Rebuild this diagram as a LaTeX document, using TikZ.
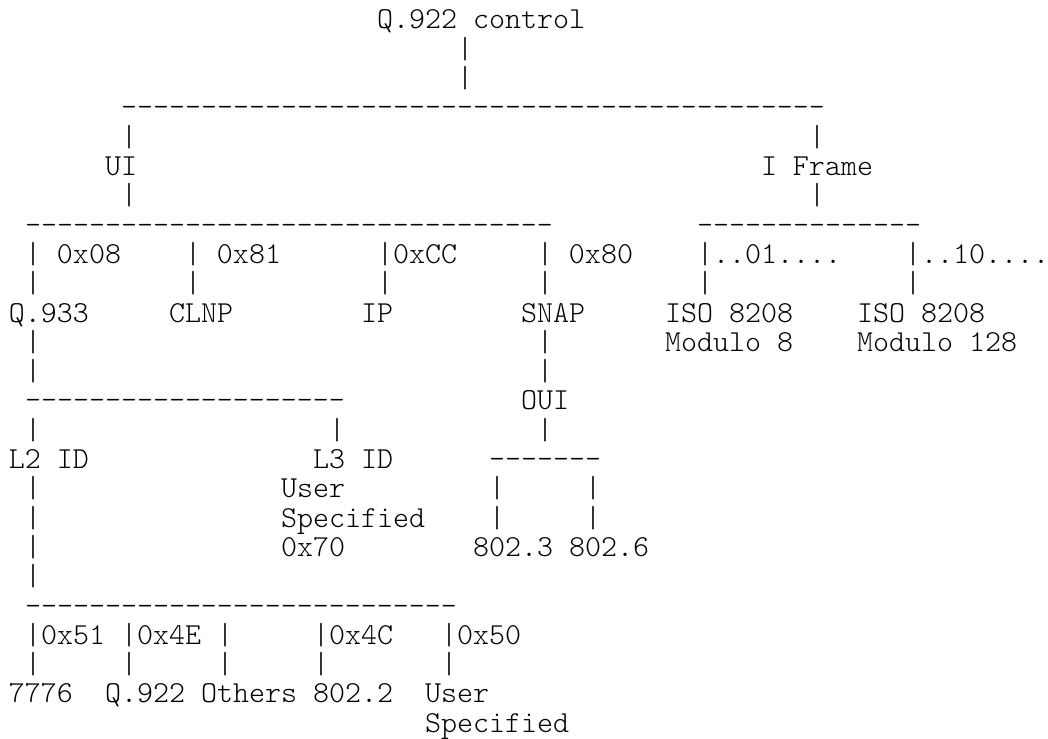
\documentclass[tikz,border=0pt]{standalone}
\usepackage{fontspec}
\setmonofont{Latin Modern Mono Light}
\ExplSyntaxOn
\NewExpandableDocumentCommand\dsh{m}{\prg_replicate:nn{#1}{-}}
\ExplSyntaxOff
\tikzset{tt/.style={anchor=base west, inner sep=0pt, outer sep=0pt, text=black,
  font=\ttfamily\fontsize{30.476pt}{29.3pt}\selectfont}}
\newcommand\T[4]{\node[tt] (#1) at (#2,#3) {#4};}
\begin{document}
\begin{tikzpicture}
\useasboundingbox (0,0) rectangle (1048pt,-738pt);
\begin{scope}[shift={(9pt,-29pt)}, x=16pt, y=-29.3pt]
% line 1-3
\T{q922c}{23}{0}{Q.922 control}
\T{p2}{28}{1}{|}
\T{p3}{28}{2}{|}
% line 4-7
\T{d4}{7}{3}{\dsh{44}}
\T{p5a}{7}{4}{|} \T{p5b}{50}{4}{|}
\T{ui}{6}{5}{UI} \T{iframe}{47}{5}{I Frame}
\T{p7a}{7}{6}{|} \T{p7b}{50}{6}{|}
% line 8-10
\T{d8a}{1}{7}{\dsh{33}} \T{d8b}{43}{7}{\dsh{14}}
\T{x08}{1}{8}{| 0x08} \T{x81}{11}{8}{| 0x81} \T{xCC}{23}{8}{|0xCC}
\T{x80}{33}{8}{| 0x80} \T{x01}{43}{8}{|..01....} \T{x10}{56}{8}{|..10....}
\T{p10a}{1}{9}{|} \T{p10b}{11}{9}{|} \T{p10c}{23}{9}{|}
\T{p10d}{33}{9}{|} \T{p10e}{43}{9}{|} \T{p10f}{56}{9}{|}
% line 11-13
\T{q933}{0}{10}{Q.933} \T{clnp}{10}{10}{CLNP} \T{ip}{22}{10}{IP}
\T{snap}{32}{10}{SNAP} \T{isoa}{41}{10}{ISO 8208} \T{isob}{53}{10}{ISO 8208}
\T{p12a}{1}{11}{|} \T{p12b}{33}{11}{|}
\T{moda}{41}{11}{Modulo 8} \T{modb}{53}{11}{Modulo 128}
\T{p13a}{1}{12}{|} \T{p13b}{33}{12}{|}
% line 14-16
\T{d14}{1}{13}{\dsh{20}} \T{oui}{32}{13}{OUI}
\T{p15a}{1}{14}{|} \T{p15b}{20}{14}{|} \T{p15c}{33}{14}{|}
\T{l2id}{0}{15}{L2 ID} \T{l3id}{19}{15}{L3 ID} \T{d16}{30}{15}{\dsh{7}}
% line 17-20
\T{p17a}{1}{16}{|} \T{usera}{17}{16}{User} \T{p17b}{30}{16}{|} \T{p17c}{36}{16}{|}
\T{p18a}{1}{17}{|} \T{speca}{17}{17}{Specified} \T{p18b}{30}{17}{|} \T{p18c}{36}{17}{|}
\T{p19a}{1}{18}{|} \T{x70}{17}{18}{0x70} \T{e8023}{29}{18}{802.3} \T{e8026}{35}{18}{802.6}
\T{p20a}{1}{19}{|}
% line 21-25
\T{d21}{1}{20}{\dsh{27}}
\T{x51}{1}{21}{|0x51} \T{x4E}{7}{21}{|0x4E} \T{p22c}{13}{21}{|}
\T{x4C}{19}{21}{|0x4C} \T{x50}{27}{21}{|0x50}
\T{p23a}{1}{22}{|} \T{p23b}{7}{22}{|} \T{p23c}{13}{22}{|} \T{p23d}{19}{22}{|} \T{p23e}{27}{22}{|}
\T{n7776}{0}{23}{7776} \T{q922b}{6}{23}{Q.922} \T{others}{12}{23}{Others}
\T{e8022}{19}{23}{802.2} \T{userb}{26}{23}{User}
\T{specb}{26}{24}{Specified}
\end{scope}
\end{tikzpicture}
\end{document}
